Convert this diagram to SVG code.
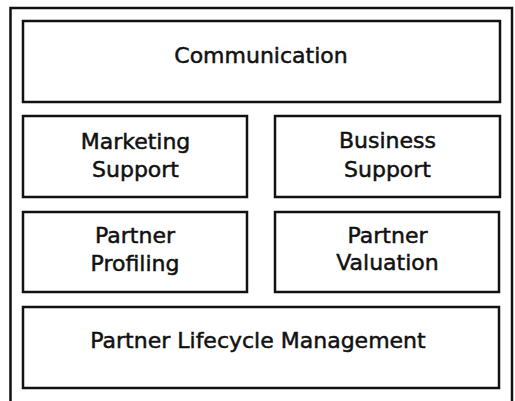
<svg xmlns="http://www.w3.org/2000/svg" width="515" height="401" viewBox="0 0 515 401">
  <style>
    .frame { fill: none; stroke: #111; stroke-width: 2.5; }
    .box { fill: #fff; stroke: #111; stroke-width: 2.5; }
    .label { font-family: "DejaVu Sans", Verdana, sans-serif; font-size: 22px; fill: #111; stroke: #111; stroke-width: 0.5; text-anchor: middle; }
  </style>
  <rect width="515" height="401" fill="#fff"/>
  <!-- outer frame, open past the bottom edge -->
  <rect id="frame" class="frame" x="10.5" y="8" width="501.5" height="420"/>
  <g id="connectors"/>
  <g id="communication">
    <rect class="box" x="23" y="21" width="477" height="81"/>
    <text class="label" x="261" y="63">Communication</text>
  </g>
  <g id="marketing-support">
    <rect class="box" x="23" y="116" width="224" height="81"/>
    <text class="label" x="135.5" y="149">Marketing</text>
    <text class="label" x="135.5" y="177">Support</text>
  </g>
  <g id="business-support">
    <rect class="box" x="275" y="116" width="225" height="81"/>
    <text class="label" x="387.5" y="148">Business</text>
    <text class="label" x="387.5" y="177">Support</text>
  </g>
  <g id="partner-profiling">
    <rect class="box" x="23" y="212" width="224" height="80"/>
    <text class="label" x="135" y="243">Partner</text>
    <text class="label" x="135" y="271">Profiling</text>
  </g>
  <g id="partner-valuation">
    <rect class="box" x="275" y="212" width="224" height="80"/>
    <text class="label" x="387.5" y="243">Partner</text>
    <text class="label" x="387.5" y="270">Valuation</text>
  </g>
  <g id="partner-lifecycle-management">
    <rect class="box" x="23" y="307" width="476" height="81"/>
    <text class="label" x="258" y="348">Partner Lifecycle Management</text>
  </g>
</svg>
